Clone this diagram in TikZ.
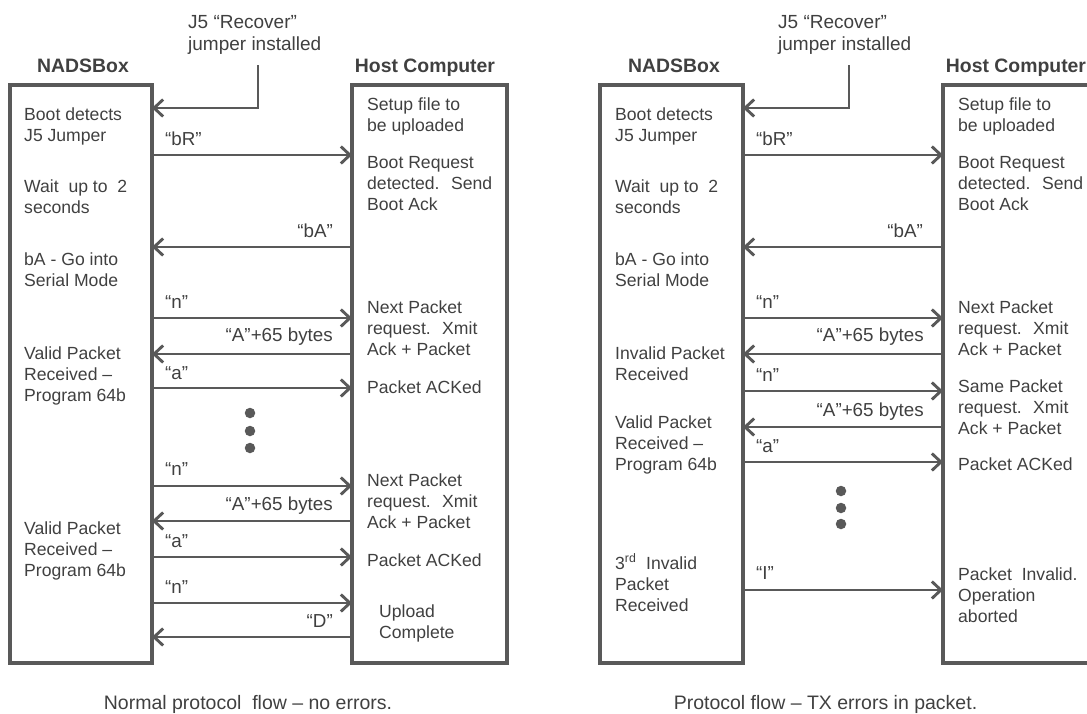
\documentclass[tikz,border=0pt]{standalone}
\usepackage{fontspec}
\setmainfont{Liberation Sans}
\usetikzlibrary{arrows.meta}
\definecolor{linec}{HTML}{595959}
\definecolor{txtc}{HTML}{404040}
\begin{document}
\begin{tikzpicture}[x=1pt,y=-1pt,
  box/.style={draw=linec,line width=3.3pt,rectangle,inner sep=0pt,outer sep=0pt,anchor=north west,minimum height=578pt},
  msg/.style={draw=linec,line width=2.9pt,-{Straight Barb[length=9pt,width=17pt]}},
  txt/.style={text=txtc,font=\fontsize{17.6}{21}\selectfont,align=left,anchor=base west,inner sep=0pt},
  jtxt/.style={text=txtc,font=\fontsize{19}{22}\selectfont,align=left,anchor=base west,inner sep=0pt},
  lbl/.style={text=txtc,font=\fontsize{18.8}{21}\selectfont,inner sep=0pt},
  hdr/.style={text=txtc,font=\bfseries\fontsize{19.4}{22}\selectfont,inner sep=0pt,anchor=base},
  captext/.style={text=txtc,font=\fontsize{19.5}{23}\selectfont,inner sep=0pt,anchor=base},
  dotnode/.style={circle,fill=linec,inner sep=0pt,minimum size=10.5pt}]
\clip (0,0) rectangle (1087,713);
% ---------------- left diagram ----------------
\node[box,minimum width=142pt] (nbL) at (10,85) {};
\node[box,minimum width=155pt] (hcL) at (352,85) {};
\node[hdr] (hNL) at (83,72) {NADSBox};
\node[hdr] (hHL) at (425,72) {Host Computer};
\node[jtxt] (jtL) at (188,50) {J5 “Recover”\\jumper installed};
\coordinate (jL) at (258,65);
\draw[msg] (jL) |- (nbL.east |- 0,108);

\node[txt] (tL1) at (24,141) {Boot detects\\J5 Jumper};
\node[txt] (tL2) at (24,213) {Wait~ up to~ 2\\seconds};
\node[txt] (tL3) at (24,286) {bA - Go into\\Serial Mode};
\node[txt] (tL4) at (24,401) {Valid Packet\\Received –\\Program 64b};
\node[txt] (tL5) at (24,576) {Valid Packet\\Received –\\Program 64b};

\node[txt] (hL1) at (367,131) {Setup file to\\be uploaded};
\node[txt] (hL2) at (367,210) {Boot Request\\detected.~ Send\\Boot Ack};
\node[txt] (hL3) at (367,355) {Next Packet\\request.~ Xmit\\Ack + Packet};
\node[txt] (hL4) at (367,393) {Packet ACKed};
\node[txt] (hL5) at (367,528) {Next Packet\\request.~ Xmit\\Ack + Packet};
\node[txt] (hL6) at (367,566) {Packet ACKed};
\node[txt] (hL7) at (379,638) {Upload\\Complete};

\draw[msg] (nbL.east |- 0,155) -- (hcL.west |- 0,155);
\draw[msg] (hcL.west |- 0,247) -- (nbL.east |- 0,247);
\draw[msg] (nbL.east |- 0,318) -- (hcL.west |- 0,318);
\draw[msg] (hcL.west |- 0,354) -- (nbL.east |- 0,354);
\draw[msg] (nbL.east |- 0,388) -- (hcL.west |- 0,388);
\draw[msg] (nbL.east |- 0,486) -- (hcL.west |- 0,486);
\draw[msg] (hcL.west |- 0,521) -- (nbL.east |- 0,521);
\draw[msg] (nbL.east |- 0,557) -- (hcL.west |- 0,557);
\draw[msg] (nbL.east |- 0,603) -- (hcL.west |- 0,603);
\draw[msg] (hcL.west |- 0,637) -- (nbL.east |- 0,637);

\node[lbl,anchor=base west] (lL1) at (165,145) {“bR”};
\node[lbl,anchor=base east] (lL2) at (333,237) {“bA”};
\node[lbl,anchor=base west] (lL3) at (165,308) {“n”};
\node[lbl,anchor=base east] (lL4) at (333,341) {“A”+65 bytes};
\node[lbl,anchor=base west] (lL5) at (165,379) {“a”};
\node[lbl,anchor=base west] (lL6) at (165,475) {“n”};
\node[lbl,anchor=base east] (lL7) at (333,510) {“A”+65 bytes};
\node[lbl,anchor=base west] (lL8) at (165,547) {“a”};
\node[lbl,anchor=base west] (lL9) at (165,593) {“n”};
\node[lbl,anchor=base east] (lL10) at (333,627) {“D”};

\node[dotnode] (dL1) at (250,413) {};
\node[dotnode] (dL2) at (250,431) {};
\node[dotnode] (dL3) at (250,448) {};

\node[captext] (cL) at (248,709) {Normal protocol~ flow – no errors.};

% ---------------- right diagram ----------------
\node[box,minimum width=143pt] (nbR) at (600,85) {};
\node[box,minimum width=160pt] (hcR) at (943,85) {};
\node[hdr] (hNR) at (674,72) {NADSBox};
\node[hdr] (hHR) at (1016,72) {Host Computer};
\node[jtxt] (jtR) at (778,50) {J5 “Recover”\\jumper installed};
\coordinate (jR) at (849,65);
\draw[msg] (jR) |- (nbR.east |- 0,108);

\node[txt] (tR1) at (615,141) {Boot detects\\J5 Jumper};
\node[txt] (tR2) at (615,213) {Wait~ up to~ 2\\seconds};
\node[txt] (tR3) at (615,286) {bA - Go into\\Serial Mode};
\node[txt] (tR4) at (615,380) {Invalid Packet\\Received};
\node[txt] (tR5) at (615,470) {Valid Packet\\Received –\\Program 64b};
\node[txt] (tR6) at (615,611) {3\textsuperscript{rd}~ Invalid\\Packet\\Received};

\node[txt] (hR1) at (958,131) {Setup file to\\be uploaded};
\node[txt] (hR2) at (958,210) {Boot Request\\detected.~ Send\\Boot Ack};
\node[txt] (hR3) at (958,355) {Next Packet\\request.~ Xmit\\Ack + Packet};
\node[txt] (hR4) at (958,434) {Same Packet\\request.~ Xmit\\Ack + Packet};
\node[txt] (hR5) at (958,470) {Packet ACKed};
\node[txt] (hR6) at (958,622) {Packet~ Invalid.\\Operation\\aborted};

\draw[msg] (nbR.east |- 0,155) -- (hcR.west |- 0,155);
\draw[msg] (hcR.west |- 0,247) -- (nbR.east |- 0,247);
\draw[msg] (nbR.east |- 0,318) -- (hcR.west |- 0,318);
\draw[msg] (hcR.west |- 0,354) -- (nbR.east |- 0,354);
\draw[msg] (nbR.east |- 0,391) -- (hcR.west |- 0,391);
\draw[msg] (hcR.west |- 0,427) -- (nbR.east |- 0,427);
\draw[msg] (nbR.east |- 0,462) -- (hcR.west |- 0,462);
\draw[msg] (nbR.east |- 0,590) -- (hcR.west |- 0,590);

\node[lbl,anchor=base west] (lR1) at (756,145) {“bR”};
\node[lbl,anchor=base east] (lR2) at (923,237) {“bA”};
\node[lbl,anchor=base west] (lR3) at (756,308) {“n”};
\node[lbl,anchor=base east] (lR4) at (924,341) {“A”+65 bytes};
\node[lbl,anchor=base west] (lR5) at (756,381) {“n”};
\node[lbl,anchor=base east] (lR6) at (924,416) {“A”+65 bytes};
\node[lbl,anchor=base west] (lR7) at (756,452) {“a”};
\node[lbl,anchor=base west] (lR8) at (756,579) {“I”};

\node[dotnode] (dR1) at (841,491) {};
\node[dotnode] (dR2) at (841,508) {};
\node[dotnode] (dR3) at (841,524) {};

\node[captext] (cR) at (825.5,709) {Protocol flow – TX errors in packet.};
\end{tikzpicture}
\end{document}
